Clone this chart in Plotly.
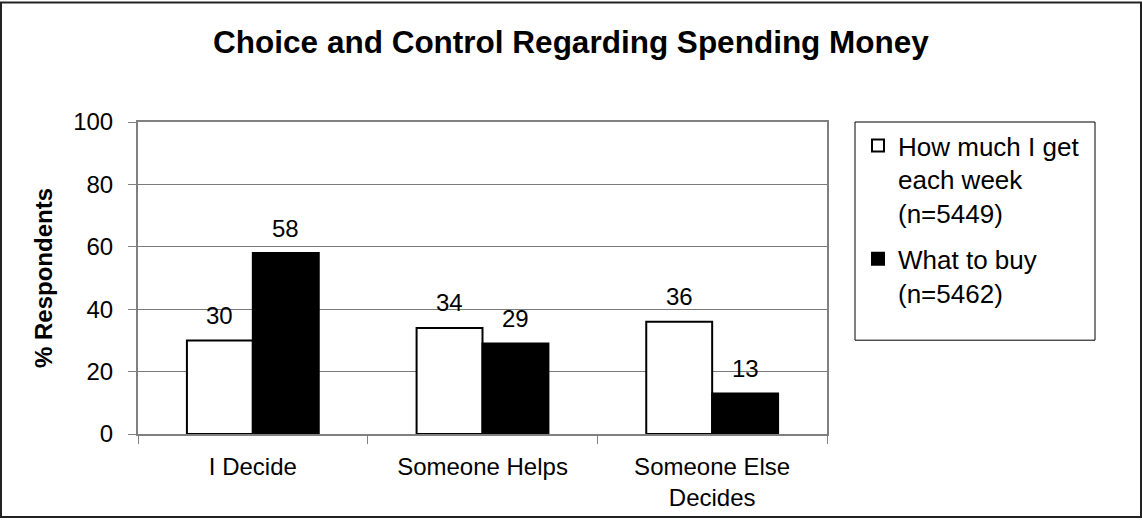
import plotly.graph_objects as go

# ---- data ----
categories = ["I Decide", "Someone Helps", "Someone Else<br>Decides"]
how_much = [30, 34, 36]
what_to_buy = [58, 29, 13]
series_names = ["How much I get<br>each week<br>(n=5449)", "What to buy<br>(n=5462)"]
y_ticks = [0, 20, 40, 60, 80, 100]

FONT = "Arial, Liberation Sans, sans-serif"
W, H = 1142, 523
ML, MR, MT, MB = 138, 315, 122, 85
PW = W - ML - MR
PH = H - MT - MB


def px_x(p):
    return (p - ML) / PW


def px_y(p):
    return (H - MB - p) / PH


fig = go.Figure()
fig.add_trace(go.Bar(x=categories, y=how_much, name=series_names[0], legendgroup="a",
                     marker=dict(color="white", line=dict(color="black", width=2))))
fig.add_trace(go.Bar(x=categories, y=what_to_buy, name=series_names[1], legendgroup="b",
                     marker=dict(color="black", line=dict(color="black", width=2))))

bargap = 0.426
bar_w = PW / len(categories) * (1 - bargap) / 2
annotations = []
for vals, sh in ((how_much, -bar_w / 2), (what_to_buy, bar_w / 2)):
    for c, v in zip(categories, vals):
        annotations.append(dict(x=c, y=v, xref="x", yref="y", text=str(v),
                                showarrow=False, xshift=sh, yshift=25,
                                yanchor="middle",
                                font=dict(family=FONT, size=24, color="black")))

fig.update_layout(
    width=W, height=H,
    margin=dict(l=ML, r=MR, t=MT, b=MB, pad=0),
    paper_bgcolor="white", plot_bgcolor="white",
    barmode="group", bargap=bargap, bargroupgap=0,
    font=dict(family=FONT, color="black"),
    title=dict(text="<b>Choice and Control Regarding Spending Money</b>",
               x=571 / W, xref="container", xanchor="center",
               y=1 - 42 / H, yref="container", yanchor="middle",
               font=dict(family=FONT, size=31.5, color="black")),
    xaxis=dict(type="category", tickson="boundaries", ticks="outside", ticklen=8,
               tickcolor="#808080", tickwidth=1, showgrid=False,
               showline=True, linecolor="#808080", linewidth=2, mirror=True,
               tickfont=dict(family=FONT, size=24, color="black"),
               ticklabelstandoff=10),
    yaxis=dict(range=[0, 100], tickvals=y_ticks, ticks="outside", ticklen=8,
               tickcolor="#808080", tickwidth=1,
               showgrid=True, gridcolor="#7a7a7a", gridwidth=1, zeroline=False,
               showline=True, linecolor="#808080", linewidth=2, mirror=True,
               tickfont=dict(family=FONT, size=24, color="black"),
               ticklabelstandoff=10,
               title=dict(text="<b>% Respondents</b>", standoff=14,
                          font=dict(family=FONT, size=24, color="black"))),
    legend=dict(x=px_x(858), y=px_y(122), xanchor="left", yanchor="top",
                borderwidth=0, bgcolor="rgba(0,0,0,0)", valign="top",
                font=dict(family=FONT, size=26, color="black"),
                tracegroupgap=9),
    annotations=annotations,
    showlegend=True,
    shapes=[
        dict(type="rect", xref="paper", yref="paper",
             x0=px_x(855), x1=px_x(1095), y0=px_y(343), y1=px_y(122),
             line=dict(color="black", width=1), fillcolor="rgba(0,0,0,0)"),
        dict(type="rect", xref="paper", yref="paper",
             x0=px_x(1), x1=px_x(1141), y0=px_y(522), y1=px_y(1),
             line=dict(color="#222222", width=2), fillcolor="rgba(0,0,0,0)"),
    ],
)

fig.write_html("out.html")
